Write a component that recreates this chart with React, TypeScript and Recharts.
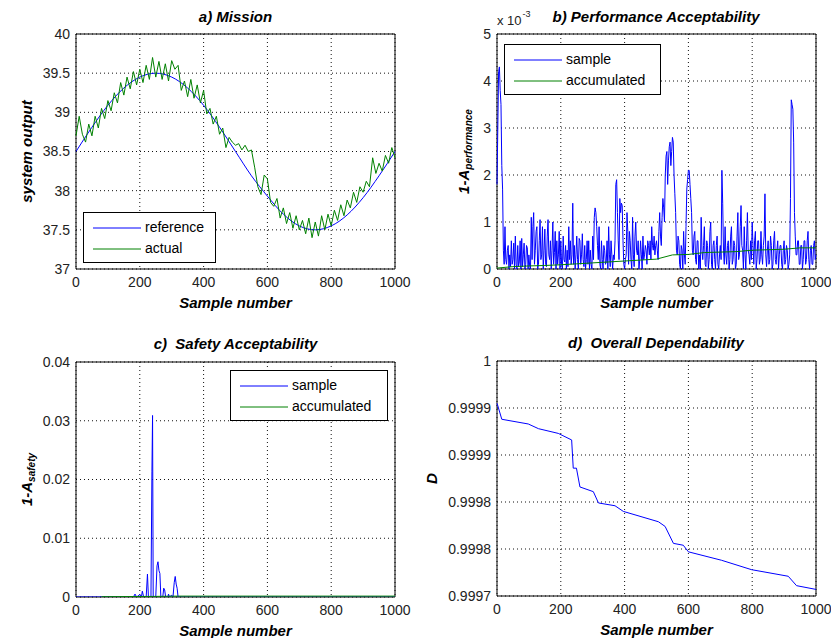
import { LineChart, Line, XAxis, YAxis, CartesianGrid, Legend, ReferenceArea } from 'recharts'

const FONT = '"Liberation Sans", Arial, Helvetica, sans-serif'
const BLUE = '#0000ff'
const GREEN = '#008000'
const GRID = '#111'
const TEXT = '#222'

const SAMPLE_TICKS = [0, 200, 400, 600, 800, 1000]

// a) Mission
const referenceX = [0, 50, 100, 150, 200, 250, 300, 350, 400, 450, 500, 550, 600, 650, 700, 750, 800, 850, 900, 950, 1000]
const referenceOutput = [38.5, 38.81, 39.09, 39.31, 39.45, 39.5, 39.45, 39.31, 39.09, 38.81, 38.5, 38.19, 37.93, 37.7, 37.55, 37.5, 37.55, 37.69, 37.91, 38.19, 38.5]
const ACTUAL_STEP = 10
const actualOutput = [
  38.70, 38.95, 38.72, 38.62, 38.85, 38.70, 38.95, 38.80, 39.05, 38.92,
  39.15, 39.02, 39.25, 39.12, 39.38, 39.22, 39.45, 39.30, 39.52, 39.35,
  39.55, 39.38, 39.60, 39.42, 39.70, 39.45, 39.65, 39.42, 39.62, 39.40,
  39.66, 39.55, 39.60, 39.28, 39.40, 39.20, 39.42, 39.18, 39.35, 39.12,
  39.28, 38.98, 39.05, 38.85, 38.95, 38.72, 38.80, 38.55, 38.68, 38.62,
  38.58, 38.60, 38.52, 38.58, 38.50, 38.52, 38.30, 38.05, 37.95, 38.20,
  38.15, 37.85, 37.80, 37.90, 37.65, 37.78, 37.58, 37.72, 37.52, 37.68,
  37.50, 37.62, 37.45, 37.65, 37.40, 37.60, 37.42, 37.68, 37.50, 37.70,
  37.55, 37.75, 37.62, 37.82, 37.68, 37.88, 37.78, 37.98, 37.85, 38.05,
  37.98, 38.12, 38.05, 38.42, 38.22, 38.35, 38.25, 38.45, 38.35, 38.55,
  38.42,
]
const MISSION_TICKS = [37, 37.5, 38, 38.5, 39, 39.5, 40]
const MISSION_LABELS = ['37', '37.5', '38', '38.5', '39', '39.5', '40']

// b) Performance Acceptability (values x 10^-3)
const PERF_STEP = 2.5
const perfSample = [
  1.8, 3.0, 4.2, 4.3, 3.8, 3.5, 2.2, 1.7, 0.4, 0.1, 0.9, 0.2, 0.1, 0.4, 0.5, 0.0, 0.3, 0.05, 0.6, 0.1,
  0.2, 0.55, 0.0, 0.7, 0.1, 0.0, 0.5, 0.05, 0.15, 0.6, 0.0, 0.65, 0.05, 0.3, 0.55, 0.0, 0.1, 0.5, 0.45, 0.0,
  0.3, 0.05, 0.0, 1.1, 0.2, 0.9, 1.2, 0.1, 0.4, 0.8, 0.9, 0.0, 0.1, 0.6, 1.05, 0.2, 0.3, 0.9, 0.0, 0.4,
  0.85, 0.1, 0.05, 0.7, 1.05, 0.3, 0.2, 0.6, 0.0, 0.4, 1.0, 0.1, 0.35, 0.8, 0.0, 0.6, 0.1, 0.3, 0.8, 0.0,
  0.6, 0.1, 0.0, 0.7, 0.2, 0.15, 0.5, 0.0, 0.4, 0.05, 0.9, 0.2, 0.6, 0.1, 0.3, 1.4, 0.1, 0.5, 0.0, 0.3,
  0.7, 0.2, 0.0, 0.65, 0.6, 0.1, 0.3, 0.75, 0.2, 0.05, 0.5, 0.0, 0.2, 0.6, 0.1, 0.6, 0.0, 0.4, 0.1, 0.0,
  0.7, 0.2, 1.1, 1.3, 1.2, 0.9, 0.5, 0.2, 0.9, 0.1, 0.0, 0.6, 0.2, 0.0, 0.5, 0.4, 0.1, 0.15, 0.6, 0.0,
  0.9, 0.3, 0.05, 0.6, 0.3, 0.0, 0.3, 0.2, 0.6, 1.8, 1.9, 1.2, 0.6, 0.2, 1.5, 1.2, 1.4, 1.35, 0.6, 0.1,
  0.0, 0.2, 0.3, 1.2, 0.8, 0.1, 0.8, 0.6, 0.2, 0.0, 1.1, 0.3, 0.05, 0.7, 1.0, 0.4, 0.3, 0.6, 0.0, 0.2,
  0.6, 0.3, 0.0, 0.7, 0.2, 0.3, 0.5, 0.4, 0.1, 0.6, 0.5, 0.3, 0.6, 0.2, 0.9, 0.5, 0.4, 0.7, 0.3, 0.5,
  0.6, 0.4, 0.2, 0.8, 1.2, 0.7, 0.5, 1.1, 1.5, 1.3, 1.0, 2.0, 2.4, 2.5, 1.8, 2.3, 2.6, 2.7, 2.2, 2.5,
  2.8, 2.7, 2.0, 1.6, 1.2, 0.4, 0.3, 0.7, 0.6, 0.1, 0.0, 0.5, 0.4, 0.0, 0.8, 0.3, 0.1, 0.9, 1.7, 1.9,
  2.1, 2.1, 1.8, 1.5, 1.2, 0.4, 0.3, 0.7, 0.8, 0.2, 0.1, 0.6, 0.6, 0.0, 0.3, 0.0, 1.1, 0.4, 0.2, 0.5,
  0.9, 0.1, 0.05, 0.6, 0.5, 0.0, 0.2, 0.8, 1.0, 0.1, 0.0, 0.5, 0.6, 0.2, 0.0, 0.5, 0.7, 0.1, 0.0, 0.3,
  0.5, 0.2, 2.1, 1.4, 0.4, 0.1, 0.9, 0.3, 0.1, 0.5, 0.6, 0.0, 0.2, 0.7, 0.9, 0.1, 0.2, 0.6, 0.5, 0.0,
  0.1, 0.7, 1.2, 0.2, 0.3, 0.9, 1.35, 0.5, 0.4, 0.0, 0.9, 0.3, 0.0, 0.6, 1.2, 0.4, 0.3, 0.1, 0.6, 0.2,
  1.0, 0.5, 0.1, 0.6, 0.8, 0.0, 0.2, 0.6, 0.6, 0.1, 0.2, 0.8, 0.3, 0.1, 0.5, 0.7, 1.6, 0.3, 0.05, 0.4,
  0.6, 0.1, 0.2, 0.7, 0.5, 0.0, 0.1, 0.6, 0.8, 0.2, 0.1, 0.4, 0.6, 0.0, 0.3, 0.5, 0.5, 0.1, 0.0, 0.4,
  0.6, 0.1, 0.2, 0.5, 0.4, 0.0, 0.1, 0.3, 1.5, 3.6, 3.5, 3.4, 2.7, 1.2, 0.7, 0.3, 0.3, 0.6, 0.6, 0.1,
  0.1, 0.5, 0.5, 0.0, 0.2, 0.6, 0.6, 0.1, 0.2, 0.6, 0.8, 0.2, 0.0, 0.4, 0.5, 0.1, 0.1, 0.5, 0.6, 0.2,
  0.3,
]
const perfAccX = [0, 50, 100, 150, 200, 250, 300, 350, 400, 450, 500, 550, 600, 650, 700, 750, 800, 850, 900, 950, 1000]
const perfAccumulated = [0.02, 0.05, 0.065, 0.075, 0.09, 0.11, 0.13, 0.15, 0.17, 0.19, 0.21, 0.3, 0.31, 0.35, 0.36, 0.37, 0.4, 0.41, 0.42, 0.45, 0.45]
const PERF_TICKS = [0, 1, 2, 3, 4, 5]
const PERF_LABELS = ['0', '1', '2', '3', '4', '5']

// c) Safety Acceptability
const safetyX = [0, 180, 185, 190, 200, 205, 208, 212, 220, 224, 227, 235, 238, 240, 242, 250, 254, 257, 260, 263, 266, 272, 275, 278, 281, 288, 290, 293, 300, 304, 308, 311, 314, 317, 320, 1000]
const safetySample = [0, 0, 0.0005, 0, 0.0004, 0, 0.001, 0, 0, 0.0039, 0, 0, 0.0213, 0.0309, 0, 0, 0.0053, 0.006, 0.0045, 0.004, 0, 0, 0.0015, 0.0012, 0, 0, 0.0005, 0, 0.0003, 0, 0.0025, 0.0035, 0.0022, 0.0015, 0, 0]
const safetyAccX = [80, 240, 320, 1000]
const safetyAccumulated = [0.00005, 0.0001, 0.00015, 0.00015]
const SAFETY_TICKS = [0, 0.01, 0.02, 0.03, 0.04]
const SAFETY_LABELS = ['0', '0.01', '0.02', '0.03', '0.04']

// d) Overall Dependability
const depX = [0, 2, 15, 98, 130, 192, 234, 239, 249, 260, 302, 318, 370, 396, 506, 527, 553, 584, 600, 704, 798, 913, 939, 1000]
const dependability = [0.999955, 0.999953, 0.999938, 0.999933, 0.999928, 0.999923, 0.999916, 0.999886, 0.999886, 0.999866, 0.999861, 0.999849, 0.999846, 0.99984, 0.999829, 0.999824, 0.999806, 0.999804, 0.999797, 0.999788, 0.999778, 0.999771, 0.999761, 0.999757]
const DEP_TICKS = [0.99975, 0.9998, 0.99985, 0.9999, 0.99995, 1]
const DEP_LABELS = ['0.9997', '0.9998', '0.9998', '0.9999', '0.9999', '1']

const zip = (xs: number[], ys: number[]) => xs.map((x, i) => ({ x, y: ys[i] }))
const stepped = (ys: number[], step: number) => ys.map((y, i) => ({ x: i * step, y }))

interface Series {
  name: string
  color: string
  data: { x: number; y: number }[]
  curve?: 'monotone' | 'linear'
}

interface PanelProps {
  left: number
  top: number
  width: number
  height: number
  plotLeft: number
  plotRight: number
  plotTop: number
  plotBottom: number
  yDomain: [number, number]
  yTicks: number[]
  yLabels: string[]
  yTitleX: number
  yTitle: string
  yTitleSub?: string
  series: Series[]
  legend?: { left: number; top: number; width: number }
}

const LegendBox = ({ payload, order, width }: any) => {
  const items = [...(payload || [])].sort((a: any, b: any) => order.indexOf(a.value) - order.indexOf(b.value))
  return (
    <div style={{ border: '1px solid #000', background: '#fff', width, boxSizing: 'border-box', padding: '4px 0 3px 0', fontFamily: FONT, fontSize: 14, color: '#000' }}>
      {items.map((it: any) => (
        <div key={it.value} style={{ display: 'flex', alignItems: 'center', height: 21 }}>
          <svg width={61} height={10} style={{ flex: 'none' }}>
            <line x1={9} x2={57} y1={5} y2={5} stroke={it.color} strokeWidth={1} />
          </svg>
          <span style={{ lineHeight: '21px' }}>{it.value}</span>
        </div>
      ))}
    </div>
  )
}

function Panel(p: PanelProps) {
  const xTitle = (props: any) => {
    const vb = props.viewBox
    return (
      <text x={vb.x + vb.width / 2} y={vb.y + 33} textAnchor="middle" dominantBaseline="central"
        fontFamily={FONT} fontSize={15} fontWeight="bold" fontStyle="italic" fill="#000">
        Sample number
      </text>
    )
  }
  const yTitle = (props: any) => {
    const vb = props.viewBox
    const cy = vb.y + vb.height / 2
    return (
      <text x={p.yTitleX} y={cy} transform={`rotate(-90 ${p.yTitleX} ${cy})`} textAnchor="middle" dominantBaseline="central"
        fontFamily={FONT} fontSize={15} fontWeight="bold" fontStyle="italic" fill="#000">
        {p.yTitle}
        {p.yTitleSub && <tspan fontSize={10} dy={5}>{p.yTitleSub}</tspan>}
      </text>
    )
  }
  const order = p.series.map((s) => s.name)
  return (
    <div style={{ position: 'absolute', left: p.left, top: p.top }}>
      <LineChart width={p.width} height={p.height}
        margin={{ top: p.plotTop, right: p.width - p.plotRight, bottom: 0, left: 0 }}>
        <CartesianGrid stroke={GRID} strokeDasharray="1 3" />
        <XAxis dataKey="x" type="number" domain={[0, 1000]} ticks={SAMPLE_TICKS} interval={0}
          height={p.height - p.plotBottom} axisLine={false} tickLine={false} tickMargin={2}
          tick={{ fill: TEXT, fontSize: 14, fontFamily: FONT }} label={xTitle} />
        <YAxis type="number" domain={p.yDomain} ticks={p.yTicks} interval={0} allowDataOverflow
          width={p.plotLeft} axisLine={false} tickLine={false} tickMargin={0}
          tickFormatter={(v: number, i: number) => p.yLabels[i]}
          tick={{ fill: TEXT, fontSize: 14, fontFamily: FONT }} label={yTitle} />
        {p.series.map((s) => (
          <Line key={s.name} name={s.name} data={s.data} dataKey="y" type={s.curve || 'linear'}
            stroke={s.color} strokeWidth={1} dot={false} activeDot={false} isAnimationActive={false} />
        ))}
        <ReferenceArea x1={0} x2={1000} y1={p.yDomain[0]} y2={p.yDomain[1]} fill="none" fillOpacity={0}
          stroke="#000" strokeWidth={1} ifOverflow="visible" />
        {p.legend && (
          <Legend verticalAlign="middle" align="center"
            wrapperStyle={{ position: 'absolute', left: p.legend.left, top: p.legend.top, width: p.legend.width }}
            content={(props: any) => <LegendBox payload={props.payload} order={order} width={p.legend!.width} />} />
        )}
      </LineChart>
    </div>
  )
}

const titleStyle = (cx: number, cy: number): React.CSSProperties => ({
  position: 'absolute', left: cx - 200, top: cy - 9, width: 400, textAlign: 'center',
  fontFamily: FONT, fontSize: 15, fontWeight: 'bold', fontStyle: 'italic', lineHeight: '18px',
  whiteSpace: 'pre', color: '#000',
})

export default function App() {
  return (
    <div style={{ position: 'absolute', left: 0, top: 0, width: 831, height: 638, background: '#fff', overflow: 'hidden' }}>
      <Panel left={0} top={0} width={415} height={320} plotLeft={76} plotRight={395} plotTop={34} plotBottom={269}
        yDomain={[37, 40]} yTicks={MISSION_TICKS} yLabels={MISSION_LABELS} yTitleX={26} yTitle="system output"
        series={[
          { name: 'reference', color: BLUE, data: zip(referenceX, referenceOutput), curve: 'monotone' },
          { name: 'actual', color: GREEN, data: stepped(actualOutput, ACTUAL_STEP) },
        ]}
        legend={{ left: 83, top: 212, width: 133 }} />
      <Panel left={415} top={0} width={416} height={320} plotLeft={82} plotRight={401} plotTop={34} plotBottom={269}
        yDomain={[0, 5]} yTicks={PERF_TICKS} yLabels={PERF_LABELS} yTitleX={48} yTitle="1-A" yTitleSub="performance"
        series={[
          { name: 'sample', color: BLUE, data: stepped(perfSample, PERF_STEP) },
          { name: 'accumulated', color: GREEN, data: zip(perfAccX, perfAccumulated) },
        ]}
        legend={{ left: 89, top: 44, width: 157 }} />
      <Panel left={0} top={320} width={415} height={318} plotLeft={76} plotRight={395} plotTop={42} plotBottom={277}
        yDomain={[0, 0.04]} yTicks={SAFETY_TICKS} yLabels={SAFETY_LABELS} yTitleX={26} yTitle="1-A" yTitleSub="safety"
        series={[
          { name: 'sample', color: BLUE, data: zip(safetyX, safetySample) },
          { name: 'accumulated', color: GREEN, data: zip(safetyAccX, safetyAccumulated) },
        ]}
        legend={{ left: 230, top: 50, width: 158 }} />
      <Panel left={415} top={320} width={416} height={318} plotLeft={82} plotRight={401} plotTop={41} plotBottom={276}
        yDomain={[0.99975, 1]} yTicks={DEP_TICKS} yLabels={DEP_LABELS} yTitleX={16} yTitle="D"
        series={[{ name: 'D', color: BLUE, data: zip(depX, dependability) }]} />

      <div style={titleStyle(235.5, 17)}>a) Mission</div>
      <div style={titleStyle(656, 17)}>b) Performance Acceptability</div>
      <div style={titleStyle(235.5, 344)}>{'c)  Safety Acceptability'}</div>
      <div style={titleStyle(656, 343)}>{'d)  Overall Dependability'}</div>
      <div style={{ position: 'absolute', left: 497, top: 13, fontFamily: FONT, fontSize: 13, color: TEXT, whiteSpace: 'nowrap' }}>
        x 10<sup style={{ fontSize: 9, verticalAlign: 'top', position: 'relative', top: -4, marginLeft: 1 }}>-3</sup>
      </div>
    </div>
  )
}
